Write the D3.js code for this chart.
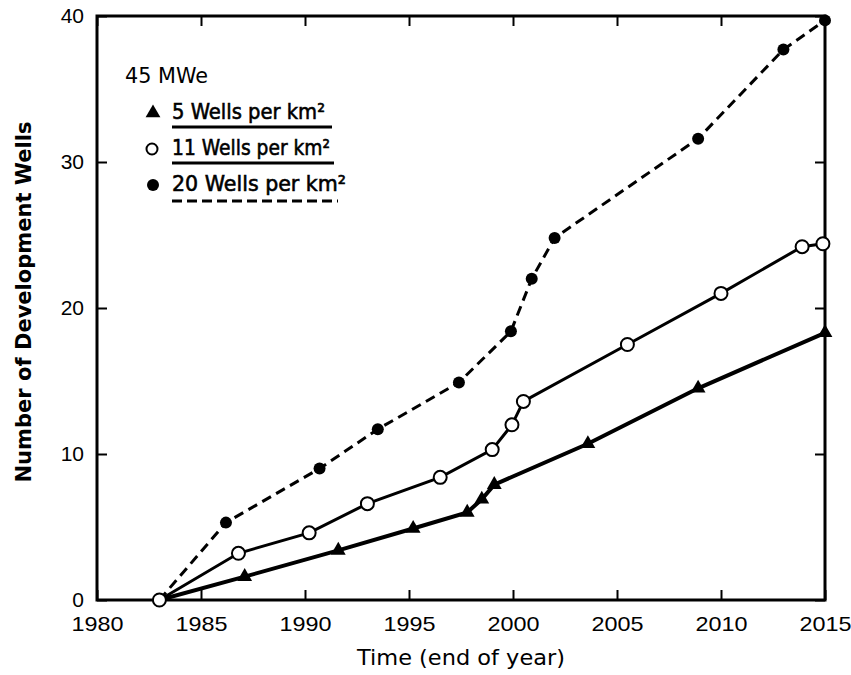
<!DOCTYPE html>
<html>
<head>
<meta charset="utf-8">
<script src="https://cdn.jsdelivr.net/npm/d3@7"></script>
<style>
  body { margin: 0; background: #fff; }
  svg { display: block; font-family: 'DejaVu Sans', sans-serif; }
</style>
</head>
<body>
<svg id="chart" width="851" height="675"></svg>
<script>
// + --- Data ---------------------------------------------------------------- +
const years5 = [1983, 1987.1, 1991.6, 1995.2, 1997.8, 1998.5, 1999.1, 2003.6, 2008.9, 2015]
const wells5 = [0, 1.6, 3.4, 4.9, 6.0, 6.9, 7.9, 10.7, 14.5, 18.3]

const years11 = [1983, 1986.8, 1990.2, 1993.0, 1996.5, 1999.0, 1999.95, 2000.5, 2005.5, 2010.0, 2013.9, 2014.9]
const wells11 = [0, 3.2, 4.6, 6.6, 8.4, 10.3, 12.0, 13.6, 17.5, 21.0, 24.2, 24.4]

const years20 = [1983, 1986.2, 1990.7, 1993.5, 1997.4, 1999.9, 2000.9, 2002.0, 2008.9, 2013.0, 2015]
const wells20 = [0, 5.3, 9.0, 11.7, 14.9, 18.4, 22.0, 24.8, 31.6, 37.7, 39.7]

const xTicks = [1980, 1985, 1990, 1995, 2000, 2005, 2010, 2015]
const yTicks = [0, 10, 20, 30, 40]

const legendTitle = '45 MWe'
const legendLabels = ['5 Wells per km²', '11 Wells per km²', '20 Wells per km²']

// + --- Layout --------------------------------------------------------------- +
const margin = {top: 16, right: 26, bottom: 75, left: 97}
const W = 851, H = 675
const iw = W - margin.left - margin.right
const ih = H - margin.top - margin.bottom

const svg = d3.select('#chart')
const g = svg.append('g').attr('transform', 'translate(' + margin.left + ',' + margin.top + ')')

const x = d3.scaleLinear().domain([1980, 2015]).range([0, iw])
const y = d3.scaleLinear().domain([0, 40]).range([ih, 0])

// + --- Axes: ticks point inward on all four sides ------------------------- +
function styleAxis (sel) {
  sel.select('.domain').remove()
  sel.selectAll('.tick line').attr('stroke', '#000').attr('stroke-width', 2)
  sel.selectAll('.tick text')
    .attr('fill', '#000')
    .style('font-size', '21px')
}

g.append('g')
  .attr('transform', 'translate(0,' + ih + ')')
  .call(d3.axisBottom(x).tickValues(xTicks).tickFormat(d3.format('d')).tickSize(-10).tickPadding(16))
  .call(styleAxis)
  .selectAll('.tick text')
  .attr('textLength', 52)
  .attr('lengthAdjust', 'spacingAndGlyphs')

g.append('g')
  .call(d3.axisTop(x).tickValues(xTicks).tickFormat('').tickSize(-10))
  .call(styleAxis)

g.append('g')
  .call(d3.axisLeft(y).tickValues(yTicks).tickSize(-10).tickPadding(13))
  .call(styleAxis)

g.append('g')
  .attr('transform', 'translate(' + iw + ',0)')
  .call(d3.axisRight(y).tickValues(yTicks).tickFormat('').tickSize(-10))
  .call(styleAxis)

// frame
g.append('rect')
  .attr('width', iw)
  .attr('height', ih)
  .attr('fill', 'none')
  .attr('stroke', '#000')
  .attr('stroke-width', 3)

// + --- Axis titles ----------------------------------------------------------- +
svg.append('text')
  .attr('x', margin.left + iw / 2)
  .attr('y', 665)
  .attr('text-anchor', 'middle')
  .attr('textLength', 208)
  .attr('lengthAdjust', 'spacingAndGlyphs')
  .style('font-size', '21px')
  .text('Time (end of year)')

svg.append('text')
  .attr('transform', 'translate(31,' + 302 + ') rotate(-90)')
  .attr('text-anchor', 'middle')
  .attr('textLength', 361)
  .attr('lengthAdjust', 'spacingAndGlyphs')
  .style('font-size', '21px')
  .style('font-weight', 'bold')
  .text('Number of Development Wells')

// + --- Series ----------------------------------------------------------------- +
const line = d3.line().x(d => x(d[0])).y(d => y(d[1]))
const zip = (xs, ys) => xs.map((v, i) => [v, ys[i]])

const pts5 = zip(years5, wells5)
const pts11 = zip(years11, wells11)
const pts20 = zip(years20, wells20)

g.append('path').datum(pts20)
  .attr('d', line)
  .attr('fill', 'none')
  .attr('stroke', '#000')
  .attr('stroke-width', 3)
  .attr('stroke-dasharray', '10,6')

g.append('path').datum(pts11)
  .attr('d', line)
  .attr('fill', 'none')
  .attr('stroke', '#000')
  .attr('stroke-width', 3)

g.append('path').datum(pts5)
  .attr('d', line)
  .attr('fill', 'none')
  .attr('stroke', '#000')
  .attr('stroke-width', 4)

const tri = d3.symbol().type(d3.symbolTriangle).size(95)

// markers (the shared start point is drawn once, as an open circle)
g.selectAll('.m20').data(pts20.slice(1)).enter()
  .append('circle')
  .attr('cx', d => x(d[0]))
  .attr('cy', d => y(d[1]))
  .attr('r', 6)
  .attr('fill', '#000')

g.selectAll('.m5').data(pts5.slice(1)).enter()
  .append('path')
  .attr('d', tri)
  .attr('transform', d => 'translate(' + x(d[0]) + ',' + y(d[1]) + ')')
  .attr('fill', '#000')

g.selectAll('.m11').data(pts11).enter()
  .append('circle')
  .attr('cx', d => x(d[0]))
  .attr('cy', d => y(d[1]))
  .attr('r', 6.5)
  .attr('fill', '#fff')
  .attr('stroke', '#000')
  .attr('stroke-width', 2)

// + --- Legend ------------------------------------------------------------------ +
svg.append('text')
  .attr('x', 125)
  .attr('y', 83)
  .attr('textLength', 83)
  .attr('lengthAdjust', 'spacingAndGlyphs')
  .style('font-size', '22px')
  .text(legendTitle)

const rows = [
  {base: 119, under: 127, len: 153, end: 332, marker: 'tri', dash: null},
  {base: 155, under: 163, len: 158, end: 334, marker: 'open', dash: null},
  {base: 191, under: 201, len: 174, end: 338, marker: 'fill', dash: '10,5'}
]

rows.forEach((r, i) => {
  let my = r.base - 6
  if (r.marker === 'tri') {
    svg.append('path').attr('d', tri).attr('transform', 'translate(153,' + my + ')').attr('fill', '#000')
  } else if (r.marker === 'open') {
    svg.append('circle').attr('cx', 152).attr('cy', my).attr('r', 5.5)
      .attr('fill', '#fff').attr('stroke', '#000').attr('stroke-width', 2)
  } else {
    svg.append('circle').attr('cx', 153).attr('cy', my).attr('r', 6).attr('fill', '#000')
  }
  svg.append('text')
    .attr('x', 172)
    .attr('y', r.base)
    .attr('textLength', r.len)
    .attr('lengthAdjust', 'spacingAndGlyphs')
    .attr('stroke', '#000')
    .attr('stroke-width', 0.6)
    .style('font-size', '21px')
    .text(legendLabels[i])

  svg.append('line')
    .attr('x1', 172).attr('x2', r.end)
    .attr('y1', r.under).attr('y2', r.under)
    .attr('stroke', '#000')
    .attr('stroke-width', 3)
    .attr('stroke-dasharray', r.dash)
})
</script>
</body>
</html>
